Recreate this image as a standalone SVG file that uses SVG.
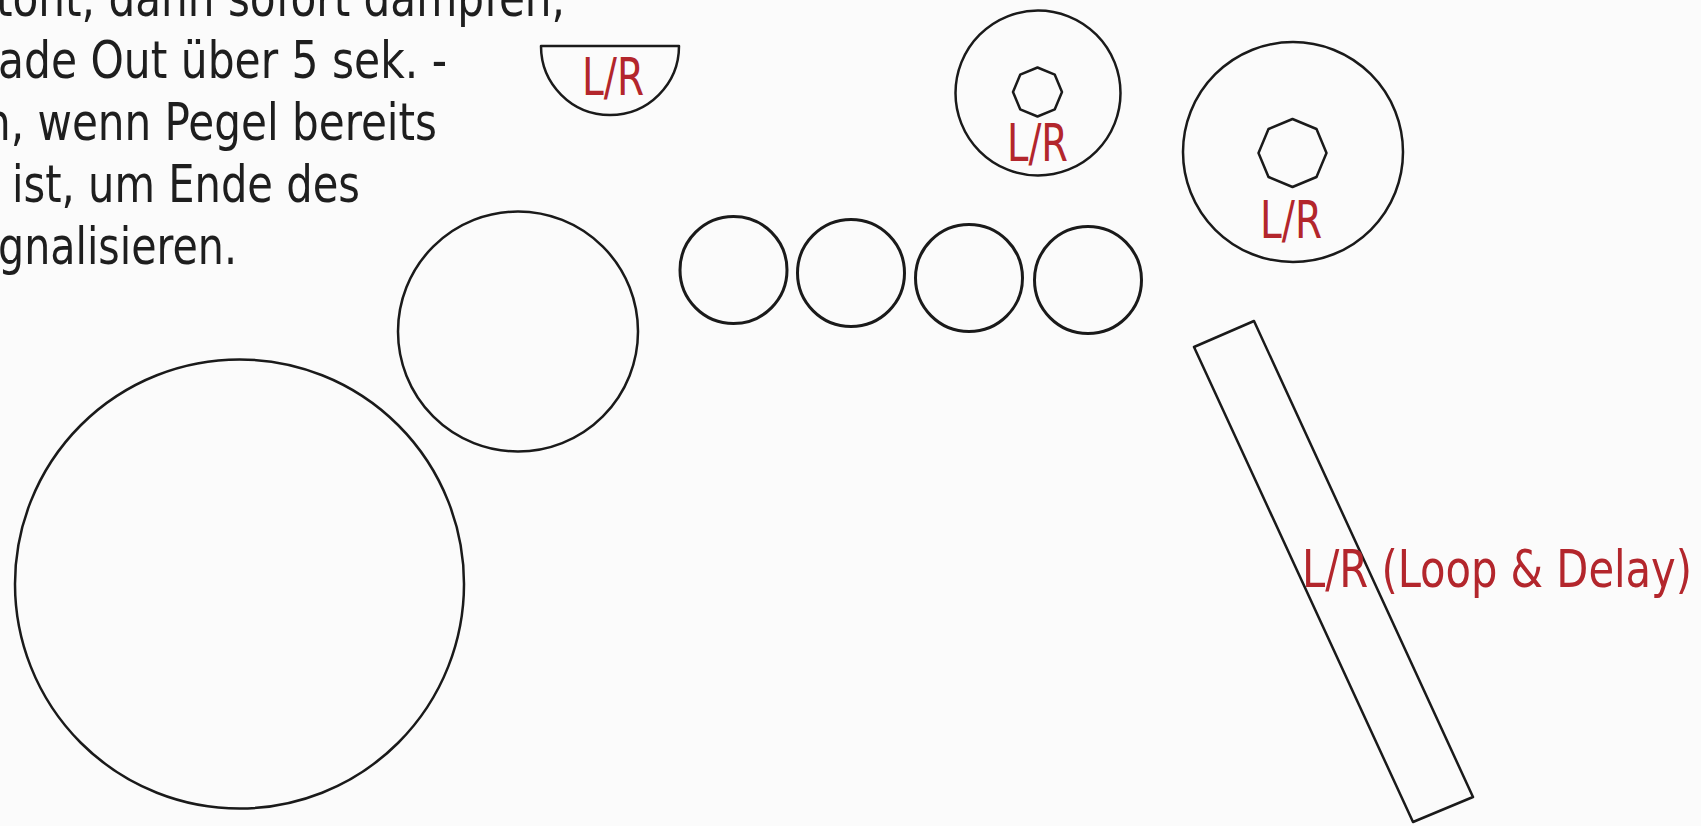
<svg xmlns="http://www.w3.org/2000/svg" width="1701" height="826" viewBox="0 0 1701 826">
<style>
.bg{fill:#fbfbfb}
.s{fill:none;stroke:#1a1a1a;stroke-width:2.5;stroke-linejoin:round}
.t{font-family:"Liberation Sans Narrow","DejaVu Sans Condensed","Liberation Sans",sans-serif;font-size:52px;fill:#1e1e1e}
.r{font-family:"Liberation Sans Narrow","DejaVu Sans Condensed","Liberation Sans",sans-serif;font-size:52px;fill:#b3262c}
</style>
<rect class="bg" x="0" y="0" width="1701" height="826"/>
<g id="note">
<text class="t" x="-4" y="16" textLength="569" lengthAdjust="spacingAndGlyphs">tont, dann sofort dämpfen,</text>
<text class="t" x="-2" y="78" textLength="449" lengthAdjust="spacingAndGlyphs">ade Out über 5 sek. -</text>
<text class="t" x="-16" y="140" textLength="453" lengthAdjust="spacingAndGlyphs">n, wenn Pegel bereits</text>
<text class="t" x="12" y="202" textLength="348" lengthAdjust="spacingAndGlyphs">ist, um Ende des</text>
<text class="t" x="-2" y="264" textLength="239" lengthAdjust="spacingAndGlyphs">gnalisieren.</text>
</g>
<g id="bowl">
<path class="s" d="M541,46 H679 A69,69 0 0 1 541,46 Z"/>
<text class="r" x="613" y="95" text-anchor="middle" textLength="62" lengthAdjust="spacingAndGlyphs">L/R</text>
</g>
<g id="big-circle"><circle class="s" cx="239.5" cy="584" r="224.5"/></g>
<g id="mid-circle"><circle class="s" cx="518" cy="331.5" r="120"/></g>
<g id="small-1"><circle class="s" cx="733.5" cy="270" r="53.5" style="stroke-width:3"/></g>
<g id="small-2"><circle class="s" cx="851" cy="273" r="53.5" style="stroke-width:3"/></g>
<g id="small-3"><circle class="s" cx="969" cy="278" r="53.5" style="stroke-width:3"/></g>
<g id="small-4"><circle class="s" cx="1088" cy="280" r="53.5" style="stroke-width:3"/></g>
<g id="donut-1">
<circle class="s" cx="1038" cy="93" r="82.5"/>
<polygon class="s" points="1037.5,67.5 1054.8,74.7 1062,92 1054.8,109.3 1037.5,116.5 1020.2,109.3 1013,92 1020.2,74.7"/>
<text class="r" x="1037.5" y="161" text-anchor="middle" textLength="61" lengthAdjust="spacingAndGlyphs">L/R</text>
</g>
<g id="donut-2">
<circle class="s" cx="1293" cy="152" r="110"/>
<polygon class="s" points="1292.5,119 1316.5,129 1326.5,153 1316.5,177 1292.5,187 1268.5,177 1258.5,153 1268.5,129"/>
<text class="r" x="1291" y="238" text-anchor="middle" textLength="62" lengthAdjust="spacingAndGlyphs">L/R</text>
</g>
<g id="bar">
<polygon class="s" points="1194,347 1254,321 1473,797 1413,822"/>
<text class="r" x="1302" y="587" textLength="390" lengthAdjust="spacingAndGlyphs">L/R (Loop &amp; Delay)</text>
</g>
<g id="connectors"/>
</svg>
